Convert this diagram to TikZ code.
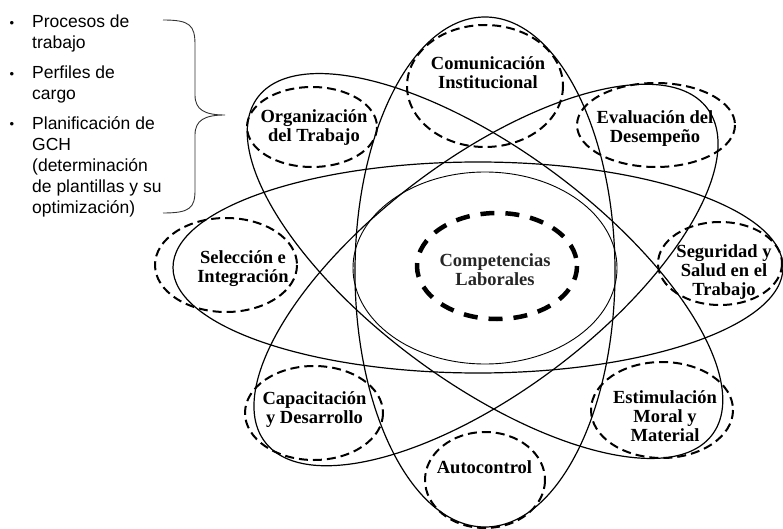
\documentclass[tikz,border=0pt]{standalone}
\usepackage{fontspec}
\setmainfont{Liberation Serif}
\newfontfamily\listfont{Liberation Sans}
\usetikzlibrary{shapes,calc,positioning}

\tikzset{
  orbit/.style={line width=1.2pt},
  sat/.style={line width=2pt, dash pattern=on 9pt off 5pt},
  core/.style={line width=4.5pt, dash pattern=on 14pt off 11pt},
  lbl/.style={font=\fontsize{18.5}{19}\selectfont\bfseries, align=center, inner sep=0pt},
  item/.style={font=\listfont\fontsize{17.5}{21}\selectfont, align=left, anchor=north west, inner sep=0pt},
  dot/.style={font=\listfont\fontsize{13}{13}\selectfont, inner sep=0pt}
}

\begin{document}
\begin{tikzpicture}[x=1pt,y=-1pt]
\useasboundingbox (0,0) rectangle (783,529);

%% the big orbits
\draw[orbit] (478,267.5) ellipse [x radius=305, y radius=105.5];
\draw[orbit] (485,272) ellipse [x radius=130, y radius=255];
\draw[orbit, rotate around={-36.5:(485,266)}] (485,266) ellipse [x radius=283, y radius=116];
\draw[orbit, rotate around={37:(486,275)}] (486,275) ellipse [x radius=277, y radius=116];
\draw[line width=0.9pt] (485,268) ellipse [x radius=132, y radius=96];

%% dashed rings
\draw[core] (497,266) ellipse [x radius=80, y radius=53];
\draw[sat] (485,86) ellipse [x radius=78, y radius=61];
\draw[sat] (312,127) ellipse [x radius=65, y radius=40];
\draw[sat] (656,125) ellipse [x radius=79, y radius=42];
\draw[sat] (720,263.5) ellipse [x radius=62, y radius=41.5];
\draw[sat] (226,265) ellipse [x radius=71, y radius=47];
\draw[sat] (314,413) ellipse [x radius=69, y radius=47];
\draw[sat] (485,480) ellipse [x radius=60, y radius=48];
\draw[sat] (662,410) ellipse [x radius=71, y radius=48];

%% labels
\node[lbl, text=black!85] (comp) at (495,269.5) {Competencias\\Laborales};
\node[lbl] (comu) at (488,73) {Comunicación\\Institucional};
\node[lbl] (orga) at (314,128) {Organización\\del Trabajo};
\node[lbl] (eval) at (655,129) {Evaluación del\\Desempeño};
\node[lbl] (segu) at (724,272.5) {Seguridad y\\Salud en el\\Trabajo};
\node[lbl] (sele) at (243,269) {Selección e\\Integración};
\node[lbl] (capa) at (314.5,409.5) {Capacitación\\y Desarrollo};
\node[lbl] (auto) at (484.5,467) {Autocontrol};
\node[lbl] (esti) at (665,416) {Estimulación\\Moral y\\Material};

%% list on the left
\node[item] (proc) at (32,15) {Procesos de\\trabajo};
\node[item] (perf) at (32,66) {Perfiles de\\cargo};
\node[item] (plan) at (32,116) {Planificación de\\GCH\\(determinación\\de plantillas y su\\optimización)};
\node[dot] (b1) at (12,24) {•};
\node[dot] (b2) at (12,75) {•};
\node[dot] (b3) at (12,125) {•};

%% brace
\draw[line width=0.9pt, black!80] (163,20) .. controls (190,20) and (195,25) .. (195,45)
  -- (195,95) .. controls (195,110) and (205,115) .. (225,115)
  .. controls (205,115) and (195,120) .. (195,135)
  -- (195,190) .. controls (195,208) and (190,213) .. (163,213);
\end{tikzpicture}
\end{document}
